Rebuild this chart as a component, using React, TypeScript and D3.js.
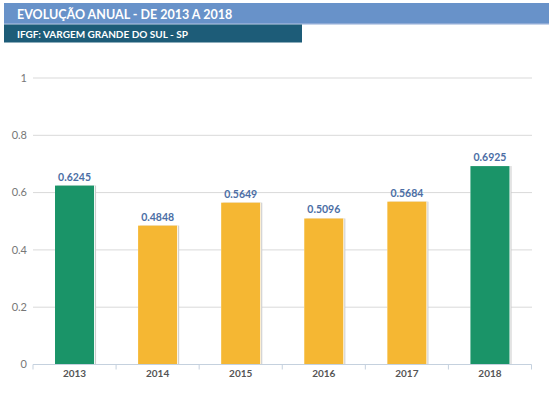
import { useEffect, useRef } from 'react';
import * as d3 from 'd3';

// Chart data
const years = ['2013', '2014', '2015', '2016', '2017', '2018'];
const ifgf = [0.6245, 0.4848, 0.5649, 0.5096, 0.5684, 0.6925];
const yTicks = [0, 0.2, 0.4, 0.6, 0.8, 1];

const title = 'EVOLUÇÃO ANUAL - DE 2013 A 2018';
const subtitle = 'IFGF: VARGEM GRANDE DO SUL - SP';

export default function App() {
  const svgRef = useRef<SVGSVGElement>(null);

  useEffect(() => {
    if (!svgRef.current) return;

    const width = 549;
    const height = 400;
    const font = 'Lato, "Open Sans", sans-serif';

    const svg = d3.select(svgRef.current);
    svg.selectAll('*').remove();
    svg.attr('width', width).attr('height', height);

    // Header bars
    svg.append('rect').attr('x', 4).attr('y', 3).attr('width', 545).attr('height', 21).attr('fill', '#6892c9');
    svg.append('rect').attr('x', 4).attr('y', 23).attr('width', 545).attr('height', 1.5).attr('fill', '#8eaad6');
    svg.append('text')
      .attr('x', 17).attr('y', 19)
      .attr('fill', '#fff').attr('font-family', font).attr('font-weight', 700).attr('font-size', '12.5px')
      .text(title);

    svg.append('rect').attr('x', 4).attr('y', 24.5).attr('width', 298).attr('height', 18).attr('fill', '#1d5c78');
    svg.append('text')
      .attr('x', 17).attr('y', 37.5)
      .attr('fill', '#fff').attr('font-family', font).attr('font-weight', 700).attr('font-size', '10px')
      .text(subtitle);

    // Scales
    const x = d3.scaleBand().domain(years).range([33, 531.5]).paddingInner(0.53).paddingOuter(0.265);
    const y = d3.scaleLinear().domain([0, 1]).range([364.5, 78]);

    const g = svg.append('g');

    // Grid lines + y labels
    yTicks.forEach((t) => {
      if (t > 0) {
        g.append('line')
          .attr('x1', 33).attr('x2', 532)
          .attr('y1', y(t)).attr('y2', y(t))
          .attr('stroke', '#d9d9d9').attr('stroke-width', 1);
      }
      g.append('text')
        .attr('x', 27).attr('y', y(t))
        .attr('dy', '0.35em')
        .attr('text-anchor', 'end')
        .attr('fill', '#777').attr('font-family', font).attr('font-size', '11px')
        .text(d3.format('~g')(t));
    });

    // Bars
    const color = (v: number) => (v >= 0.6 ? '#1a9468' : '#f5b733');
    years.forEach((yr, i) => {
      const v = ifgf[i];
      const bx = x(yr) || 0;
      const bw = x.bandwidth();
      g.append('rect')
        .attr('x', bx + 2).attr('y', y(v)).attr('width', bw).attr('height', y(0) - y(v))
        .attr('fill', '#c9c9c9');
      g.append('rect')
        .attr('x', bx).attr('y', y(v)).attr('width', bw + 1).attr('height', y(0) - y(v))
        .attr('fill', '#fff');
      g.append('rect')
        .attr('x', bx).attr('y', y(v)).attr('width', bw).attr('height', y(0) - y(v))
        .attr('fill', color(v));
      g.append('text')
        .attr('x', bx + bw / 2).attr('y', y(v) - 5)
        .attr('text-anchor', 'middle')
        .attr('fill', '#4b6ea5').attr('font-family', font).attr('font-weight', 700).attr('font-size', '10.5px')
        .text(d3.format('.4f')(v));
    });

    // X axis
    const step = x.step();
    g.append('line')
      .attr('x1', 33).attr('x2', 531.5)
      .attr('y1', y(0)).attr('y2', y(0))
      .attr('stroke', '#c5d1de').attr('stroke-width', 1);
    d3.range(years.length + 1).forEach((i) => {
      const tx = 33 + i * step;
      g.append('line')
        .attr('x1', tx).attr('x2', tx)
        .attr('y1', y(0)).attr('y2', y(0) + 5)
        .attr('stroke', '#c5d1de');
    });
    years.forEach((yr) => {
      g.append('text')
        .attr('x', (x(yr) || 0) + x.bandwidth() / 2).attr('y', 376.5)
        .attr('text-anchor', 'middle')
        .attr('fill', '#555').attr('font-family', font).attr('font-weight', 700).attr('font-size', '10px')
        .text(yr);
    });
  }, []);

  return <svg ref={svgRef} style={{ position: 'absolute', left: 0, top: 0, background: '#fff' }} />;
}
